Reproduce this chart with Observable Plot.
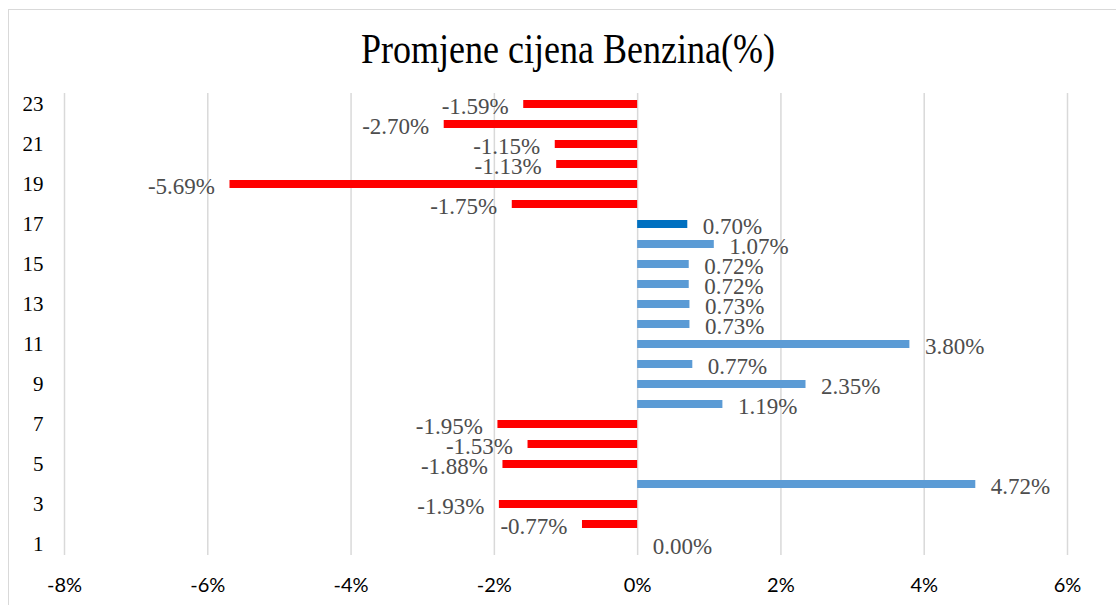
<!DOCTYPE html>
<html><head><meta charset="utf-8">
<script src="https://cdn.jsdelivr.net/npm/d3@7"></script>
<script src="https://cdn.jsdelivr.net/npm/@observablehq/plot@0.6"></script>
<style>
html,body{margin:0;padding:0;background:#fff;overflow:hidden;width:1116px;height:605px;}
#frame{position:absolute;left:8px;top:9px;width:1200px;height:700px;border-left:1.5px solid #d9d9d9;border-top:1.5px solid #d9d9d9;box-sizing:border-box;}
#wrap{position:relative;}
#title{height:80px;margin:0;box-sizing:border-box;padding-top:31px;padding-left:20px;font-family:"Liberation Serif","Times New Roman",serif;font-size:36px;line-height:36px;font-weight:normal;text-align:center;color:#000;}
#title span{display:inline-block;transform:scaleY(1.2);transform-origin:50% 50%;}
#chart svg{display:block;}
</style>
</head><body>
<div id="frame"></div>
<div id="wrap">
<div id="title"><span>Promjene cijena Benzina(%)</span></div>
<div id="chart"></div>
</div>
<script>
const categories = [1,2,3,4,5,6,7,8,9,10,11,12,13,14,15,16,17,18,19,20,21,22,23];
const values = [0.00,-0.77,-1.93,4.72,-1.88,-1.53,-1.95,1.19,2.35,0.77,3.80,0.73,0.73,0.72,0.72,1.07,0.70,-1.75,-5.69,-1.13,-1.15,-2.70,-1.59];
const highlighted = [17];
const xTicks = [-8,-6,-4,-2,0,2,4,6];
const yTicks = [1,3,5,7,9,11,13,15,17,19,21,23];
const colors = {negative:"#ff0000", positive:"#5b9bd5", highlight:"#0070c0"};

const data = categories.map((c,i)=>({cat:c, value:values[i]}));
const colorOf = d => d.value < 0 ? colors.negative : (highlighted.includes(d.cat) ? colors.highlight : colors.positive);
const fmt = d => d.value.toFixed(2) + "%";
const serif = '"Liberation Serif","Times New Roman",serif';

const chart = Plot.plot({
  width:1116, height:525,
  marginLeft:64, marginRight:49, marginTop:13, marginBottom:50,
  style:{background:"transparent", color:"#000"},
  color:{type:"identity"},
  x:{domain:[-8,6], label:null},
  y:{domain:categories.slice().reverse(), type:"band", paddingInner:0.6, paddingOuter:0.3, label:null},
  marks:[
    Plot.gridX(xTicks,{stroke:"#d9d9d9", strokeOpacity:1, strokeWidth:1.5}),
    Plot.barX(data,{x:"value", y:"cat", fill:colorOf}),
    Plot.text(data.filter(d=>d.value<0),{x:"value", y:"cat", text:fmt, textAnchor:"end", dx:-15, dy:2, fontSize:23, fontFamily:serif, fill:"#4d4d4d"}),
    Plot.text(data.filter(d=>d.value>=0),{x:"value", y:"cat", text:fmt, textAnchor:"start", dx:15, dy:2, fontSize:23, fontFamily:serif, fill:"#4d4d4d"}),
    Plot.axisX(xTicks,{tickSize:0, tickPadding:22, tickFormat:d=>`${d}%`, fontSize:20, fontFamily:"Lato, sans-serif", fill:"#000", label:null}),
    Plot.axisY(yTicks,{tickSize:0, tickPadding:21, fontSize:21, fontFamily:serif, fill:"#000", label:null})
  ]
});
document.getElementById("chart").appendChild(chart);
</script>
</body></html>
